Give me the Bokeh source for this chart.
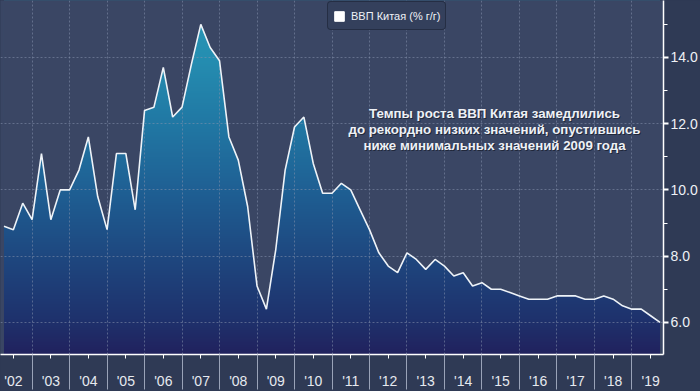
import numpy as np
from bokeh.plotting import figure
from bokeh.models import (FixedTicker, Label, Legend, LegendItem,
                          GlobalInlineStyleSheet)
from bokeh.embed import file_html
from bokeh.resources import INLINE

# ---------------- data ----------------
series_name = "ВВП Китая (% г/г)"
first_year = 2002
gdp_yoy = [
    8.9, 8.8, 9.6, 9.1,      # 2002
    11.1, 9.1, 10.0, 10.0,   # 2003
    10.6, 11.6, 9.8, 8.8,    # 2004
    11.1, 11.1, 9.4, 12.4,   # 2005
    12.5, 13.7, 12.2, 12.5,  # 2006
    13.8, 15.0, 14.3, 13.9,  # 2007
    11.6, 10.9, 9.5, 7.1,    # 2008
    6.4, 8.2, 10.6, 11.9,    # 2009
    12.2, 10.8, 9.9, 9.9,    # 2010
    10.2, 10.0, 9.4, 8.8,    # 2011
    8.1, 7.7, 7.5, 8.1,      # 2012
    7.9, 7.6, 7.9, 7.7,      # 2013
    7.4, 7.5, 7.1, 7.2,      # 2014
    7.0, 7.0, 6.9, 6.8,      # 2015
    6.7, 6.7, 6.7, 6.8,      # 2016
    6.8, 6.8, 6.7, 6.7,      # 2017
    6.8, 6.7, 6.5, 6.4,      # 2018
    6.4, 6.2, 6.0,           # 2019
]
label_years = list(range(2002, 2020))
year_labels = ["'02", "'03", "'04", "'05", "'06", "'07", "'08", "'09", "'10",
               "'11", "'12", "'13", "'14", "'15", "'16", "'17", "'18", "'19"]
boundary_years = list(range(2003, 2020))
y_ticks = [6, 8, 10, 12, 14]
y_minor_ticks = [5, 7, 9, 11, 13, 15]
annotation_lines = ["Темпы роста ВВП Китая замедлились",
                    "до рекордно низких значений, опустившись",
                    "ниже минимальных значений 2009 года"]

# quarter-end positions in decimal years
x = [first_year + (i // 4) + ((i % 4) + 1) * 0.25 for i in range(len(gdp_yoy))]

X0, X1 = 2002.157, 2019.843
Y0, Y1 = 5.03, 15.72

BG = "#3a4664"
BORDER = "#2f3a55"
FONT = "Liberation Sans"

p = figure(width=700, height=391, x_range=(X0, X1), y_range=(Y0, Y1),
           y_axis_location="right", output_backend="svg", toolbar_location=None)
p.min_border = 0
p.min_border_left = 0
p.min_border_top = 0
p.min_border_right = 35
p.min_border_bottom = 35
p.outline_line_color = None
p.background_fill_color = BG
p.border_fill_color = BORDER
p.stylesheets = [GlobalInlineStyleSheet(css="html,body{margin:0;padding:0;overflow:hidden;background:%s}" % BORDER)]

# ---- gradient fill under the curve (image + cover above the line) ----
stops_v = [Y0, 6.0, 8.0, 10.0, 12.0, 14.0, Y1]
stops_c = [(0x21, 0x22, 0x5e), (0x1f, 0x31, 0x6c), (0x1e, 0x48, 0x80),
           (0x1f, 0x60, 0x94), (0x21, 0x78, 0xa4), (0x25, 0x8e, 0xb1),
           (0x2a, 0x99, 0xb8)]
N = 300
vals = np.linspace(Y0, Y1, N)
img = np.empty((N, 1), dtype=np.uint32)
view = img.view(dtype=np.uint8).reshape((N, 1, 4))
for ch in range(3):
    view[:, 0, ch] = np.interp(vals, stops_v, [c[ch] for c in stops_c]).astype(np.uint8)
view[:, 0, 3] = 255
p.image_rgba(image=[img], x=x[0], y=Y0, dw=x[-1] - x[0], dh=Y1 - Y0, level="image")
p.varea(x=x, y1=gdp_yoy, y2=Y1 + 1, fill_color=BG, level="image")

# ---- line ----
p.line(x, gdp_yoy, line_color="#eef3f8", line_width=1.6)

# ---- axes ----
xt = FixedTicker(ticks=[y + 0.5 for y in label_years], minor_ticks=boundary_years)
xa = p.xaxis[0]
xa.ticker = xt
xa.major_label_overrides = {y + 0.5: lab for y, lab in zip(label_years, year_labels)}
xa.axis_line_color = "white"
xa.axis_line_width = 1.5
xa.major_tick_in = 0
xa.major_tick_out = 4
xa.major_tick_line_color = "white"
xa.minor_tick_in = 0
xa.minor_tick_out = 35
xa.minor_tick_line_color = "#9aa3b8"
xa.major_label_standoff = -17
xa.major_label_text_font = FONT
xa.major_label_text_font_size = "14px"
xa.major_label_text_color = "#e6e9ef"

yt = FixedTicker(ticks=y_ticks, minor_ticks=y_minor_ticks)
ya = p.yaxis[0]
ya.ticker = yt
ya.major_label_overrides = {t: "%.1f" % t for t in y_ticks}
ya.axis_line_color = "white"
ya.axis_line_width = 1.5
ya.major_tick_in = 0
ya.major_tick_out = 5
ya.major_tick_line_color = "white"
ya.major_tick_line_width = 2
ya.minor_tick_in = 0
ya.minor_tick_out = 4
ya.minor_tick_line_color = "white"
ya.major_label_standoff = 2
ya.major_label_text_font = FONT
ya.major_label_text_font_size = "14px"
ya.major_label_text_color = "#eef1f6"

# ---- grids ----
p.xgrid.ticker = xt
p.xgrid.grid_line_color = None
p.xgrid.minor_grid_line_color = "#8591ad"
p.xgrid.minor_grid_line_alpha = 0.55
p.xgrid.minor_grid_line_dash = "2 2"
p.ygrid.ticker = yt
p.ygrid.grid_line_color = "#8591ad"
p.ygrid.grid_line_alpha = 0.55
p.ygrid.grid_line_dash = "2 2"

# ---- legend (swatch renderer is hidden; it only supplies the legend glyph) ----
swatch = p.quad(left=x[:1], right=x[:1], top=gdp_yoy[:1], bottom=gdp_yoy[:1],
                fill_color="white", line_color="white", visible=False)
legend = Legend(items=[LegendItem(label=series_name, renderers=[swatch])],
                location=(327, 324), margin=0, padding=5, spacing=0,
                glyph_width=12, glyph_height=12, label_height=17,
                label_standoff=6, label_text_font=FONT,
                label_text_font_size="11px", label_text_color="#eef1f6",
                background_fill_color="#34405c", background_fill_alpha=1.0,
                border_line_color="#161b2c", border_line_width=1.5,
                border_radius=4, inactive_fill_alpha=0.0)
p.add_layout(legend)

# ---- annotation text ----
ann_x = 2015.335
ann_y = [12.30, 11.83, 11.33]
for line_text, ly in zip(annotation_lines, ann_y):
    for dx, dy, col, alpha in [(1, -1, "#151a28", 0.7), (0, 0, "#eef1f6", 1.0)]:
        p.add_layout(Label(x=ann_x, y=ly, x_offset=dx, y_offset=dy, text=line_text,
                           text_align="center", text_baseline="middle",
                           text_font=FONT, text_font_style="bold",
                           text_font_size="13.3px",
                           text_color=col, text_alpha=alpha))

open("out.html", "w").write(file_html(p, INLINE))
